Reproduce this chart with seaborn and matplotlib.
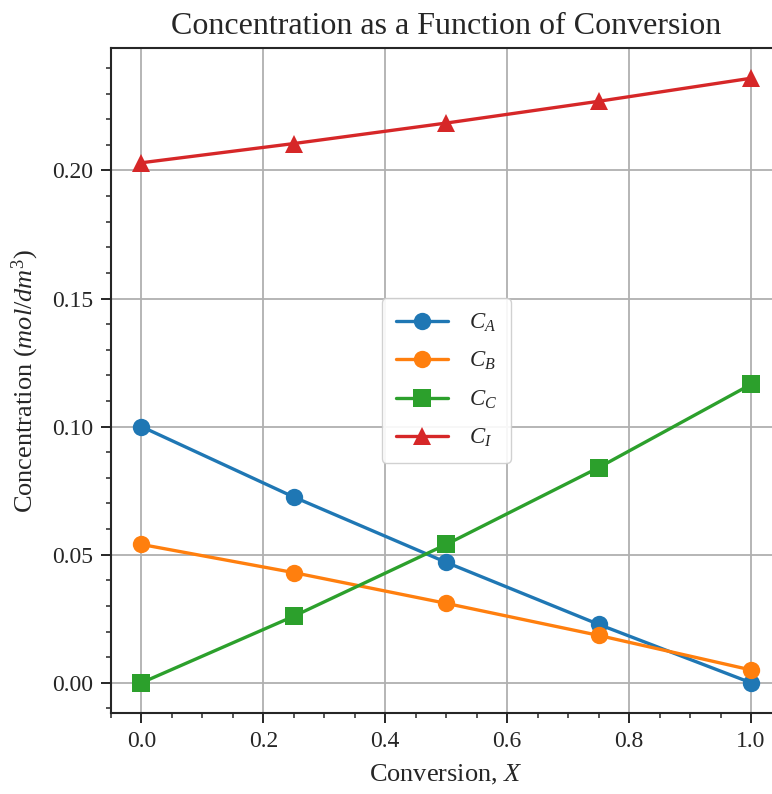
import pandas as pd
import seaborn as sns
import matplotlib.pyplot as plt
from matplotlib.ticker import MultipleLocator

# conversion values and concentrations
conversion = [0.0, 0.25, 0.5, 0.75, 1.0]
c_a = [0.100, 0.0725, 0.047, 0.0228, 0.0]
c_b = [0.054, 0.043, 0.031, 0.0185, 0.005]
c_c = [0.0, 0.026, 0.054, 0.084, 0.1165]
c_i = [0.203, 0.2105, 0.2185, 0.227, 0.236]
labels = [r'$C_A$', r'$C_B$', r'$C_C$', r'$C_I$']

sns.set_style("ticks")
plt.rcParams['font.family'] = ['Liberation Serif', 'DejaVu Serif']
plt.rcParams['mathtext.fontset'] = 'custom'
plt.rcParams['mathtext.rm'] = 'Liberation Serif'
plt.rcParams['mathtext.it'] = 'Liberation Serif:italic'

# long-form table for seaborn
frames = []
for lab, vals in zip(labels, [c_a, c_b, c_c, c_i]):
    frames.append(pd.DataFrame({'X': conversion, 'C': vals, 'species': lab}))
df = pd.concat(frames, ignore_index=True)

palette = dict(zip(labels, ['#1f77b4', '#ff7f0e', '#2ca02c', '#d62728']))
markers = dict(zip(labels, ['o', 'o', 's', '^']))

fig = plt.figure(figsize=(7.72, 7.94), dpi=100)
ax = fig.add_axes([111 / 772, 81 / 794, 670.5 / 772, 665 / 794])

sns.lineplot(data=df, x='X', y='C', hue='species', style='species',
             palette=palette, markers=markers, dashes=False,
             linewidth=2.4, markersize=12.5, markeredgewidth=0, ax=ax)

ax.grid(True, which='major', color='#b0b0b0', linewidth=1.3)
ax.set_axisbelow(True)
ax.xaxis.set_minor_locator(MultipleLocator(0.05))
ax.yaxis.set_minor_locator(MultipleLocator(0.01))
ax.tick_params(axis='both', which='major', labelsize=17, length=7, width=1.4, pad=6)
ax.tick_params(axis='both', which='minor', length=3.8, width=1.1)
for s in ax.spines.values():
    s.set_linewidth(1.5)

ax.set_xlabel('Conversion, $X$', fontsize=19, labelpad=8)
ax.set_ylabel('Concentration $(mol/dm^3)$', fontsize=19, labelpad=8)
ax.set_title('Concentration as a Function of Conversion', fontsize=23, pad=10)

leg = ax.legend(loc='center', fontsize=16.5, title=None, borderpad=0.6,
                labelspacing=0.7, handlelength=2.3, handletextpad=0.9,
                framealpha=0.9)

fig.savefig('out.png', dpi=100)
